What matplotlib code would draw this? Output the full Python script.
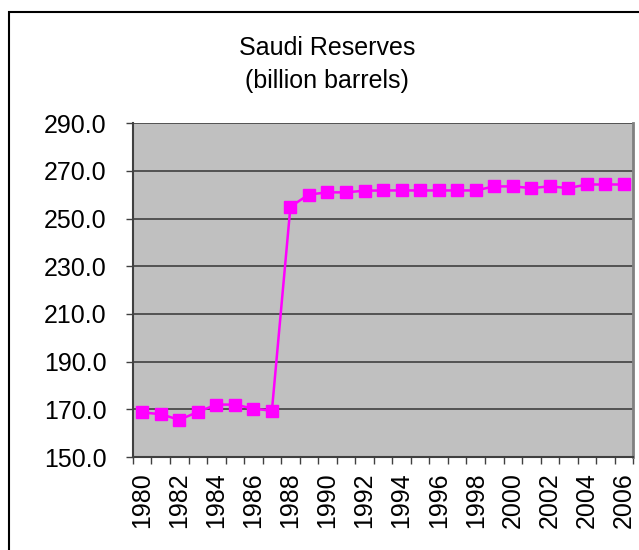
import numpy as np
import matplotlib.pyplot as plt
from matplotlib.patches import Rectangle

plt.rcParams['font.family'] = ['Liberation Sans', 'DejaVu Sans']

years = list(range(1980, 2007))
reserves = [168.7, 168.0, 165.6, 168.9, 172.0, 172.0, 170.3, 169.4,
            255.0, 260.1, 261.0, 261.0, 261.7, 261.8, 261.8, 261.8,
            261.8, 261.8, 261.8, 263.5, 263.5, 262.8, 263.5, 262.8,
            264.3, 264.3, 264.3]
yticks = [150, 170, 190, 210, 230, 250, 270, 290]

fig = plt.figure(figsize=(6.39, 5.5), dpi=100)
ax = fig.add_axes([0.208, 0.169, 0.783, 0.607])

# outer chart border
fig.patches.append(Rectangle((9 / 639, -0.1), 1.1, 1 - 12 / 550 + 0.1,
                             transform=fig.transFigure, fill=False,
                             edgecolor='black', linewidth=1.5, clip_on=False))

ax.set_facecolor('#c0c0c0')
x = np.arange(len(years))
ax.plot(x, reserves, color='#ff00ff', linewidth=1.8, marker='s',
        markersize=8.5, zorder=3, clip_on=False)

ax.set_ylim(150, 290)
ax.set_yticks(yticks)
ax.set_yticklabels(['%.1f' % v for v in yticks], fontsize=18)
ax.yaxis.grid(True, color='#404040', linewidth=1.2)
ax.set_axisbelow(True)

ax.set_xlim(-0.5, len(years) - 0.5)
ax.set_xticks(x[::2])
ax.set_xticklabels([str(y) for y in years[::2]], rotation=90, fontsize=18)
ax.set_xticks(np.arange(-0.5, len(years)), minor=True)
ax.tick_params(axis='x', which='major', length=0, pad=11)
ax.tick_params(axis='x', which='minor', length=5, width=1, color='#404040')
ax.tick_params(axis='y', length=5, width=1, color='#404040', pad=14)

for s in ['left', 'bottom']:
    ax.spines[s].set_color('#404040')
    ax.spines[s].set_linewidth(1.5)
ax.spines['top'].set_visible(False)
ax.spines['right'].set_color('#808080')
ax.spines['right'].set_linewidth(2)

fig.text(0.512, 0.912, 'Saudi Reserves', ha='center', va='center', fontsize=18)
fig.text(0.512, 0.853, '(billion barrels)', ha='center', va='center', fontsize=18)

fig.savefig('out.png', dpi=100)
